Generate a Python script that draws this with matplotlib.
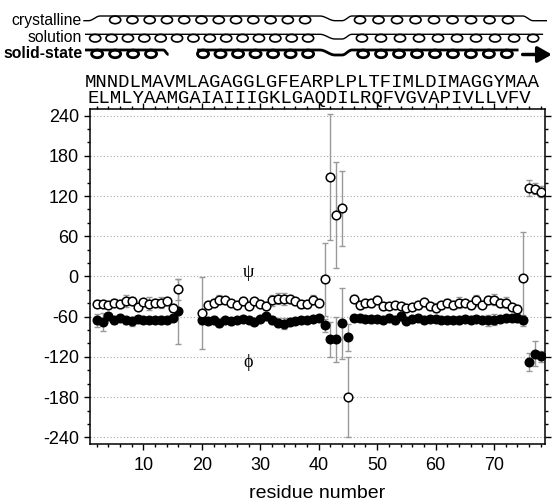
import numpy as np
import matplotlib
matplotlib.use('Agg')
import matplotlib.pyplot as plt
from matplotlib import transforms
from matplotlib.patches import Ellipse, FancyArrowPatch

plt.rcParams['font.family'] = ['Liberation Sans', 'DejaVu Sans']
plt.rcParams['axes.unicode_minus'] = False

# residues with data (1, 17-19 missing)
residues = list(range(2, 17)) + list(range(20, 79))

psi = [-40.7, -40.7, -43.2, -39.2, -40.7, -36.8, -36.8, -45.7, -38.2, -40.7, -39.2, -39.2, -37.3, -46.7, -19.4,
       -54.6, -42.2, -39.2, -34.8, -35.8, -39.2, -43.2, -37.3, -44.2, -37.3, -40.7, -44.2, -35.8, -33.3, -34.3,
       -33.3, -37.3, -41.7, -41.7, -34.8, -39.2,
       -4.5, 148, 92, 102, -180,
       -33.3, -42.2, -39.2, -39.7, -34.8, -44.2, -44.2, -43.2, -44.2, -46.7, -45.7, -42.2, -38.2, -44.7,
       -46.7, -43.2, -39.2, -43.2, -39.2, -39.2, -42.2, -35.8, -42.2, -35.8, -34.8, -39.2, -39.2, -45.7, -49.2,
       -2.5, 132.6, 130.7, 126.7]
psi_err = [5, 5, 4, 5, 6, 9, 6, 5, 5, 10, 6, 8, 5, 6, 16,
           54, 5, 6, 7, 5, 4, 5, 6, 5, 5, 5, 6, 8, 8, 9, 6, 5, 6, 5, 7, 6,
           54, 94, 79, 56, 60,
           5, 6, 5, 6, 5, 6, 5, 4, 5, 4, 5, 6, 5, 6,
           7, 5, 5, 5, 8, 4, 6, 8, 5, 6, 8, 6, 8, 5, 6,
           69, 12, 8, 8]

phi = [-65.6, -68.1, -59.6, -65.6, -62.1, -65.6, -67.1, -63.6, -65.1, -65.6, -65.6, -65.6, -65.1, -62.1, -52.2,
       -65.6, -67.1, -65.6, -69.1, -65.6, -67.1, -65.6, -63.6, -65.1, -68.1, -63.6, -59.6, -65.6, -69.1, -70.6,
       -68.1, -67.1, -65.6, -64.6, -63.6, -62.1,
       -73, -94, -94, -70, -91,
       -61.6, -62.5, -63, -64, -63.6, -64.6, -61.6, -65.6, -59.6, -67.1, -63.6, -61.6, -64.6, -63.6,
       -63.6, -65.6, -64.6, -64.6, -65.6, -63.6, -64.6, -63.6, -64.6, -65.6, -64.6, -63.6, -62.6, -62.1, -62.6,
       -65.6, -127.7, -115, -119]
phi_err = [10, 14, 5, 5, 4, 5, 7, 4, 5, 4, 4, 6, 5, 4, 48,
           5, 4, 6, 6, 4, 5, 4, 4, 5, 4, 5, 4, 6, 7, 8, 5, 4, 5, 4, 4, 5,
           10, 26, 34, 53, 20,
           4, 5, 4, 5, 4, 5, 4, 6, 5, 4, 5, 4, 5, 4,
           5, 4, 5, 4, 6, 4, 5, 4, 5, 8, 8, 4, 5, 4, 5,
           8, 13, 19, 8]

seq1 = 'MNNDLMAVMLAGAGGLGFEARPLPLTFIMLDIMAGGYMAA'
seq2 = 'ELMLYAAMGAIAIIIGKLGAQDILRQFVGVAPIVLLVFV'

# helix segments (start residue, end residue, number of coils)
crys_helices = [(5.16, 37.67, 12), (47.07, 72.4, 9)]
sol_helices = [(1.74, 38.18, 14), (47.4, 76.7, 10)]
ss_helices = [(2.08, 11.3, 4), (20.2, 38.18, 7), (47.6, 72.2, 9)]

fig = plt.figure(figsize=(5.52, 5.04), dpi=100)
ax = fig.add_axes([0.163, 0.119, 0.824, 0.665])

ax.errorbar(residues, phi, yerr=phi_err, fmt='none', ecolor='#999999', elinewidth=1,
            capsize=2.5, capthick=1, zorder=2)
ax.errorbar(residues, psi, yerr=psi_err, fmt='none', ecolor='#999999', elinewidth=1,
            capsize=2.5, capthick=1, zorder=2)
ax.plot(residues, phi, 'o', mfc='black', mec='black', ms=6.2, mew=1, zorder=3)
ax.plot(residues, psi, 'o', mfc='white', mec='black', ms=6.2, mew=1.1, zorder=4)

ax.text(28, 6, 'ψ', ha='center', va='center', fontsize=13, family=['Liberation Serif', 'DejaVu Serif'])
ax.text(28, -128, 'ϕ', ha='center', va='center', fontsize=13, family=['Liberation Serif', 'DejaVu Serif'])

ax.set_xlim(0.85, 78.7)
ax.set_ylim(-250, 250)
ax.set_xticks(range(10, 80, 10))
ax.set_xticks(range(2, 79, 2), minor=True)
ax.set_yticks(range(-240, 241, 60))
ax.set_yticks(range(-240, 241, 20), minor=True)
ax.tick_params(which='both', direction='out', top=True, right=True, width=1, labelsize=13)
ax.tick_params(which='major', length=4.5)
ax.tick_params(which='minor', length=2.5)
ax.tick_params(axis='x', pad=5)
ax.yaxis.grid(True, linestyle=(0, (1, 2)), color='#aaaaaa', lw=0.8)
ax.set_axisbelow(True)
for s in ax.spines.values():
    s.set_linewidth(1.1)
ax.set_xlabel('residue number', fontsize=14, labelpad=8)

# secondary structure diagram above the plot
trans = transforms.blended_transform_factory(ax.transData, fig.transFigure)


def fy(px):
    return 1 - px / 504.


def backbone(xs, ys, lw):
    px, py = [], []
    for i in range(len(xs) - 1):
        t = np.linspace(0, 1, 20)
        px += list(xs[i] + (xs[i + 1] - xs[i]) * t)
        py += list(ys[i] + (ys[i + 1] - ys[i]) * (1 - np.cos(np.pi * t)) / 2)
    ax.plot(px, [fy(v) for v in py], color='black', lw=lw, transform=trans, clip_on=False,
            solid_capstyle='butt')


def coils(helices, top, lw):
    for start, end, n in helices:
        for c in np.linspace(start, end, n):
            e = Ellipse((c, fy(top + 3.9)), 1.9, 7.6 / 504., transform=trans, fill=False,
                        ec='black', lw=lw, clip_on=False)
            ax.add_patch(e)


# crystalline
backbone([-0.3, 0.6, 2.6, 40.2, 42.8, 44.0, 45.7, 74.9, 76.7, 79.07],
         [20.7, 20.7, 16, 16, 20.7, 20.7, 16, 16, 20.7, 20.7], 1.0)
coils(crys_helices, 16, 1.2)
# solution
backbone([0, 40.2, 42.8, 44.0, 45.7, 78.4], [34.3, 34.3, 39, 39, 34.3, 34.3], 1.0)
coils(sol_helices, 34.3, 1.2)
# solid-state
backbone([0, 13.4, 14.3], [50, 50, 54.5], 2.0)
backbone([19.2, 40.2, 42.8, 44.0, 45.7, 74.2], [50, 50, 55, 55, 50, 50], 2.0)
coils(ss_helices, 50, 2.0)
arr = FancyArrowPatch((74.9, fy(54.5)), (79.9, fy(54.5)), transform=trans,
                      arrowstyle='-|>,head_length=0.7,head_width=0.4', mutation_scale=12,
                      lw=2.5, color='black', shrinkA=0, shrinkB=0, clip_on=False)
ax.add_patch(arr)

ax.text(-0.5, fy(20.7), 'crystalline', transform=trans, ha='right', va='center', fontsize=11.3)
ax.text(-0.5, fy(38), 'solution', transform=trans, ha='right', va='center', fontsize=11.3)
ax.text(-0.5, fy(54), 'solid-state', transform=trans, ha='right', va='center', fontsize=11.3,
        fontweight='bold')

ax.text(0, fy(87), seq1, transform=trans, family='Liberation Mono', fontsize=13.7, va='baseline')
ax.text(0.5, fy(103), seq2, transform=trans, family='Liberation Mono', fontsize=13.7, va='baseline')

fig.savefig('out.png', dpi=100)
